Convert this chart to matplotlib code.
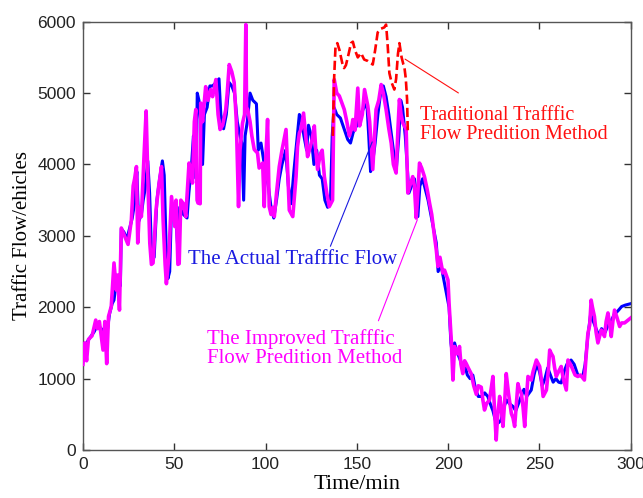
import matplotlib
matplotlib.use("Agg")
import matplotlib.pyplot as plt

# ---------------- data ----------------
# improved prediction (magenta)
imp_t = [0, 1, 2, 3, 5, 7, 8, 9, 11, 12, 13, 14, 15.5, 17, 18.3, 19, 20, 21, 22.9, 24.7,
         26.5, 27.5, 28.3, 29.3, 30, 31, 32, 33.5, 34.6, 35.7, 36.6, 37.5, 38.4, 40, 41.5, 43, 43.9, 45, 45.7, 47,
         48.5, 50.3, 51, 52, 52.7, 53.6, 55, 56.3, 58.1, 59, 60, 61, 61.8, 62.5, 63, 64.2, 64.5, 65.5, 67.2, 68.5,
         69.9, 71, 72.8, 74, 75.1, 76.5, 78.2, 79, 80.1, 81.5, 82.8, 84, 85.2, 86, 87.4, 88.5, 89.2, 89.6, 90.2, 91.5,
         92.5, 93.8, 95.6, 96.5, 98.4, 99.3, 100, 101.1, 102, 103, 104, 104.8, 106, 107.5, 109, 111.2, 112, 113, 114.9, 116.7,
         117.5, 118.5, 119.5, 120.8, 122, 123, 124, 125.5, 126.7, 127.5, 128.5, 130, 131, 132.2, 133.5, 134.9, 136.7, 137.6, 139, 140.4,
         142, 143.1, 144.5, 145.9, 147, 147.8, 149, 150.5, 151.5, 153, 154.2, 156, 157, 158.7, 159.5, 160.5, 162, 163.3, 164.5, 166,
         167.5, 168.8, 170, 171.5, 172.5, 173.3, 174.2, 175.2, 177, 177.9, 179, 180.6, 181.5, 182.5, 183.5, 184.3, 185.5, 187, 188.5, 189.8,
         191, 192.5, 193.5, 194.4, 195.5, 197.1, 198, 199.9, 200.5, 201.7, 202.6, 203.5, 204.4, 205.5, 206.2, 207, 208, 209, 209.9, 211,
         212.6, 214, 215.4, 216.5, 218.1, 219, 219.9, 221, 222.6, 223.5, 224.5, 225.5, 226.3, 227, 228.2, 229, 230, 231, 231.8, 233,
         234.6, 235.5, 236.4, 237.5, 238.2, 239, 240.1, 241, 241.9, 242.8, 243.7, 245.5, 246.5, 248.3, 250.1, 251, 252, 253, 253.8, 254.8,
         255.6, 256.5, 257.4, 258.3, 259.2, 260.5, 261.9, 263, 264.7, 265.6, 267, 268.3, 269.5, 271, 272.5, 274.6, 275.5, 276.5, 277.5, 278.3,
         279, 280.1, 281, 282, 283, 283.8, 285, 285.6, 286.5, 287.5, 288.5, 289.3, 290.2, 291.1, 292.5, 293.9, 295, 296.6, 298.5, 300]
imp_v = [1200, 1500, 1250, 1550, 1600, 1820, 1700, 1800, 1400, 1800, 1210, 1870, 2010, 2620, 2240, 2450, 1960, 3110, 2990, 2880,
         3220, 3700, 3800, 3970, 2900, 3400, 3270, 4150, 4750, 3640, 2900, 2600, 2620, 3360, 3700, 3970, 3220, 2600, 2330, 2700,
         3550, 3130, 3500, 2600, 2610, 3500, 3450, 3270, 4020, 3950, 3740, 4600, 4770, 3500, 3460, 3450, 4860, 4600, 5090, 4900,
         5050, 4950, 5190, 4700, 4490, 4550, 4770, 5000, 5400, 5300, 5150, 4600, 3410, 4200, 4580, 4700, 5960, 4800, 4770, 4600,
         4400, 4210, 4160, 3950, 4020, 3410, 4000, 4630, 3410, 3300, 3400, 3270, 3600, 3970, 4200, 4490, 4000, 3360, 3270, 3830,
         4250, 4440, 4500, 4720, 4400, 4110, 4200, 4350, 4540, 4200, 3930, 4150, 4200, 3830, 3600, 3410, 3500, 5190, 5000, 4960,
         4850, 4770, 4600, 4400, 4500, 4630, 4480, 5070, 4540, 4700, 5050, 4820, 4600, 3930, 4300, 4770, 4900, 5120, 5000, 4770,
         4500, 4300, 4000, 3880, 4500, 4910, 4700, 4580, 4490, 3600, 3700, 3830, 3700, 3250, 3650, 4020, 3950, 3830, 3650, 3460,
         3300, 2990, 2800, 2570, 2700, 2480, 2520, 2380, 2050, 1540, 980, 1450, 1350, 1350, 1450, 1200, 1070, 1250, 1210, 1150,
         1070, 900, 780, 900, 880, 700, 560, 650, 700, 850, 1030, 500, 140, 450, 750, 600, 330, 700, 1070, 800,
         510, 450, 330, 700, 930, 850, 790, 600, 330, 700, 1030, 980, 1100, 1260, 1170, 1000, 750, 800, 840, 1100,
         1400, 1350, 1310, 1150, 1030, 1100, 1170, 1000, 840, 1260, 1200, 1120, 1050, 1030, 1050, 980, 1300, 1630, 1750, 2100,
         2000, 1870, 1650, 1500, 1600, 1680, 1620, 1590, 1800, 1920, 1750, 1590, 1800, 1960, 1850, 1730, 1780, 1780, 1820, 1850]

# actual traffic flow (blue)
act_t = [0, 2, 4, 6, 8, 10, 12, 13.5, 14.5, 16, 17, 18, 19.5, 20.5, 21, 22.5, 24, 25.5, 27, 28.5,
         29.5, 30.5, 32, 33, 34, 35.5, 36.5, 37.5, 39, 40.5, 42, 43.5, 44.5, 45.5, 46.5, 47.5, 48.5, 50, 51, 52,
         53, 55, 57, 58, 59.5, 60.5, 61.5, 62, 62.6, 63.5, 64.5, 65.5, 66.5, 68, 69.5, 71, 73, 74.5, 75.5, 77,
         78.5, 80, 81.5, 83, 84.5, 86, 87, 88, 88.8, 90, 91.5, 93, 95, 96, 97.5, 99, 100.5, 101.5, 103, 104.5,
         106, 107.5, 109, 111, 112.5, 114, 115.5, 117, 118.5, 119.5, 121, 122.5, 123.5, 125, 126.5, 128, 129.5, 131, 132.5, 134,
         135.5, 136.5, 137.5, 139, 141, 143, 145, 146.5, 148, 150, 152, 154, 155.5, 156.5, 157.5, 158.5, 160, 161.5, 163, 164.5,
         166, 167.5, 169, 170.5, 171.5, 173, 174, 175, 176.5, 177.5, 178.5, 180, 181.5, 182.5, 183.4, 184.5, 186, 187.5, 189, 190.5,
         192, 193.5, 194.5, 196, 197.5, 199, 200.5, 201.5, 202.5, 203.5, 204.5, 206, 207.5, 209, 210.5, 212, 213.5, 215, 216.5, 218.5,
         220, 221.7, 223, 224.5, 226, 227.5, 229, 230.5, 232, 233.5, 235.5, 237, 238.5, 240, 241.5, 243, 245.5, 247, 248.5, 250,
         251.5, 253, 254.5, 256, 257.5, 259, 260.5, 261.9, 263.5, 265, 267.3, 269, 271, 273.7, 275, 276.5, 278, 279.5, 281, 282.5,
         284, 286, 287.5, 289, 291, 293, 295, 297, 300]
act_v = [1400, 1500, 1580, 1650, 1750, 1700, 1650, 1700, 1900, 2050, 2100, 2300, 2450, 2300, 3100, 3050, 2950, 3100, 3250, 3500,
         3900, 3200, 3300, 3500, 3650, 4050, 3600, 2800, 2700, 3500, 3800, 4050, 3850, 2900, 2400, 2500, 3400, 3350, 3200, 2800,
         3400, 3300, 3250, 3600, 4000, 4400, 4200, 3800, 5000, 4900, 4600, 4000, 4700, 4800, 5100, 5100, 5150, 5200, 4700, 4500,
         4700, 5150, 5100, 5000, 4600, 4400, 4300, 3500, 4400, 4600, 5000, 4900, 4850, 4200, 4300, 4050, 3850, 3700, 3400, 3250,
         3500, 3800, 4000, 4200, 3700, 3450, 3900, 4300, 4700, 4650, 4400, 4200, 4550, 4400, 4000, 4200, 3850, 3800, 3500, 3400,
         3450, 4400, 4800, 4700, 4650, 4500, 4350, 4300, 4450, 4550, 4700, 4800, 4850, 4400, 3900, 4000, 4300, 4700, 5000, 5100,
         4950, 4700, 4400, 4100, 3900, 4400, 4900, 4800, 4400, 4000, 3600, 3700, 3800, 3600, 3270, 3700, 3800, 3650, 3500, 3300,
         3100, 2900, 2500, 2600, 2400, 2200, 2000, 1500, 1300, 1500, 1400, 1300, 1200, 1200, 1050, 1000, 1050, 850, 750, 750,
         800, 750, 650, 550, 400, 380, 420, 600, 700, 650, 610, 550, 650, 750, 850, 750, 840, 1050, 1200, 1100,
         900, 1000, 1150, 1050, 950, 1000, 950, 940, 1100, 1200, 1260, 1200, 1050, 1030, 1200, 1600, 1900, 1800, 1700, 1600,
         1700, 1650, 1750, 1800, 1900, 1950, 2010, 2030, 2050]

# traditional prediction (red dashed), only shown on 137-178 min
trad_t = [136.8, 137.6, 138.3, 139.3, 140.5, 142, 143, 144, 145.5, 146.8, 147.8, 149, 150.5, 152.3, 154, 156, 158.7, 160, 161.4, 163,
          165, 166, 166.8, 167.8, 169, 170.5, 171.5, 172.5, 173.3, 174.5, 175.5, 176, 176.8, 177.5, 177.9]
trad_v = [4400, 5240, 5650, 5700, 5600, 5420, 5350, 5390, 5550, 5700, 5720, 5600, 5500, 5560, 5470, 5450, 5400, 5600, 5850, 5900,
          5920, 5960, 5700, 5280, 5150, 5050, 5200, 5550, 5700, 5500, 5400, 5370, 5200, 4910, 4440]

x_ticks = [0, 50, 100, 150, 200, 250, 300]
y_ticks = [0, 1000, 2000, 3000, 4000, 5000, 6000]

############ Plot ############
serif = "Liberation Serif"

fig = plt.figure(figsize=(6.43, 4.98), dpi=100)
ax = fig.add_axes([0.129, 0.0964, 0.852, 0.86])

ax.plot(act_t, act_v, color="#0000ff", lw=2.2, zorder=2)
ax.plot(imp_t, imp_v, color="#ff00ff", lw=2.6, zorder=3)
ax.plot(trad_t, trad_v, color="#ff0000", lw=1.9, linestyle=(0, (3.5, 1.5)), zorder=4)

ax.set_xlim(0, 300)
ax.set_ylim(0, 6000)
ax.set_xticks(x_ticks)
ax.set_yticks(y_ticks)
ax.tick_params(direction="in", top=True, right=True, length=5, width=1, color="#333333",
               labelsize=12.5, pad=5)
for lab in ax.get_xticklabels() + ax.get_yticklabels():
    lab.set_family("Liberation Sans")
    lab.set_color("#222222")
for sp in ax.spines.values():
    sp.set_color("#555555")
    sp.set_linewidth(1.0)

ax.set_xlabel("Time/min", family=serif, fontsize=16, labelpad=2)
ax.set_ylabel("Traffic Flow/ehicles", family=serif, fontsize=15, labelpad=4)

# annotations (text + thin connecting lines)
ax.annotate("Traditional Trafffic\nFlow Predition Method", xy=(184.3, 4550),
            color="#ff1010", family=serif, fontsize=14.5, ha="left", va="center", linespacing=1.0)
ax.annotate("", xy=(176.4, 5476), xytext=(205.6, 5002),
            arrowprops=dict(arrowstyle="-", color="#ff1010", lw=0.8, shrinkA=0, shrinkB=0))
ax.annotate("The Actual Trafffic Flow", xy=(57.3, 2668), color="#1a1ae0", family=serif,
            fontsize=15, ha="left", va="center")
ax.annotate("", xy=(158.4, 4316), xytext=(135.5, 2854),
            arrowprops=dict(arrowstyle="-", color="#1a1ae0", lw=0.8, shrinkA=0, shrinkB=0))
ax.annotate("The Improved Trafffic\nFlow Predition Method", xy=(68, 1415), color="#ff00ff",
            family=serif, fontsize=15, ha="left", va="center", linespacing=1.0)
ax.annotate("", xy=(183.1, 3225), xytext=(161.8, 1810),
            arrowprops=dict(arrowstyle="-", color="#ff00ff", lw=0.8, shrinkA=0, shrinkB=0))

fig.savefig("out.png", dpi=100)
